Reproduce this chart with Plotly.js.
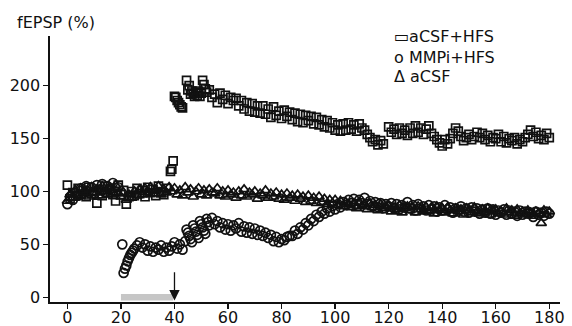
<!DOCTYPE html>
<html>
<head>
<meta charset="utf-8">
<script src="https://cdn.plot.ly/plotly-3.0.1.min.js"></script>
<style>html,body{margin:0;padding:0;background:#fff}#chart{width:572px;height:326px}</style>
</head>
<body>
<div id="chart"></div>
<script>
// ---- data (time in min, fEPSP in % of baseline) ----
const hfsTime = [0,1,2,3,4,5,6,7,8,9,10,11,12,13,14,15,16,17,18,19,20,21,22,23,24,25,26,27,28,29,30,31,32,33,34,35,36,37,
  38.5,39,39.5,40,40.5,41,41.5,42,42.5,43,
  44.5,45,45.5,46,46.5,47,47.5,48,48.5,49,49.5,50,50.5,51,51.5,52,
  53,54,55,56,57,58,59,60,61,62,63,64,65,66,67,68,69,70,71,72,73,74,75,76,77,78,79,80,81,82,83,84,85,86,87,88,89,90,91,92,
  93,94,95,96,97,98,99,100,101,102,103,104,105,106,107,108,109,110,111,112,113,114,115,116,117,118,
  120,121,122,123,124,125,126,127,128,129,130,131,132,133,134,135,136,137,138,139,140,141,142,143,144,145,146,147,148,149,
  150,151,152,153,154,155,156,157,158,159,160,161,162,163,164,165,166,167,168,169,170,171,172,173,174,175,176,177,178,179,180];
const hfsValues = [106,93,99,96,103,97,101,95,104,98,100,89,102,96,105,99,103,97,91,106,97,101,88,95,100,96,103,98,101,95,104,99,102,96,105,100,97,103,
  119,121,129,190,189,186,184,182,180,179,
  205,196,200,192,195,193,190,194,191,195,190,193,205,201,197,194,
  196,189,192,184,193,187,191,183,189,186,188,181,186,178,184,176,183,175,181,174,181,173,178,170,180,172,176,169,177,171,175,168,174,166,173,165,172,167,171,164,
  170,163,168,161,167,160,165,158,163,157,164,158,165,159,163,157,164,160,158,154,151,147,149,144,148,145,
  161,156,159,154,160,155,158,153,160,155,162,156,160,154,159,162,155,152,149,146,143,149,145,150,155,160,157,152,148,151,
  154,149,152,156,151,155,149,153,147,151,150,154,147,152,146,150,148,151,145,149,147,151,154,158,152,156,150,153,149,155,151];

const mmpiTime = [0,1,2,3,4,5,6,7,8,9,10,11,12,13,14,15,16,17,18,19,
  20.5,21,21.5,22,22.5,23,23.5,24,24.5,25,
  26,27,28,29,30,31,32,33,34,35,36,37,38,39,40,41,42,43,44,
  44.5,45,45.5,46,46.5,47,47.5,48,48.5,49,49.5,50,50.5,51,51.5,52,52.5,53,
  54,55,56,57,58,59,60,61,62,63,64,65,66,67,68,69,70,71,72,73,74,75,76,77,78,79,80,81,82,83,
  84,85,86,87,88,89,90,91,92,93,94,95,96,97,98,99,100,101,102,103,104,105,106,107,108,109,110,111,112,113,114,115,116,117,118,119,120,
  121,122,123,124,125,126,127,128,129,130,131,132,133,134,135,136,137,138,139,140,141,142,143,144,145,146,147,148,149,150,
  151,152,153,154,155,156,157,158,159,160,161,162,163,164,165,166,167,168,169,170,171,172,173,174,175,176,177,178,179,180];
const mmpiValues = [88,95,92,99,96,103,98,105,100,104,98,106,101,107,99,105,102,108,100,104,
  50,23,27,30,34,37,40,42,44,46,
  49,52,47,50,44,48,43,47,45,49,43,47,44,48,52,46,50,45,53,
  64,61,58,55,52,68,65,62,59,56,72,69,66,63,60,74,71,68,
  75,69,72,66,70,64,69,63,68,65,70,62,67,61,66,60,65,59,63,58,61,56,59,53,57,52,55,54,57,58,
  58,63,60,66,64,70,68,74,72,78,76,81,79,84,81,86,83,88,85,90,87,92,89,93,88,92,89,94,88,91,86,90,85,89,84,88,86,
  89,84,88,83,87,85,90,84,87,82,88,84,86,82,87,83,86,81,85,82,87,83,85,80,84,82,86,81,84,80,
  85,81,84,79,83,80,84,79,83,78,82,80,83,78,82,79,81,77,82,78,81,79,80,76,81,78,80,77,81,79];

const acsfTime = [0,1,2,3,4,5,6,7,8,9,10,11,12,13,14,15,16,17,18,19,20,21,22,23,24,25,26,27,28,29,30,31,32,33,34,35,36,37,38,39,
  40,41,42,43,44,45,46,47,48,49,50,51,52,53,54,55,56,57,58,59,60,61,62,63,64,65,66,67,68,69,70,71,72,73,74,75,76,77,78,79,
  80,81,82,83,84,85,86,87,88,89,90,91,92,93,94,95,96,97,98,99,100,101,102,103,104,105,106,107,108,109,110,111,112,113,114,115,116,117,118,119,
  120,121,122,123,124,125,126,127,128,129,130,131,132,133,134,135,136,137,138,139,140,141,142,143,144,145,146,147,148,149,150,151,152,153,154,155,156,157,158,159,
  160,161,162,163,164,165,166,167,168,169,170,171,172,173,174,175,176,177,178,179,180];
const acsfValues = [91,97,94,101,96,103,98,100,95,104,99,102,96,105,100,97,103,99,106,98,
  95,99,92,97,94,100,96,102,97,103,99,104,98,101,105,97,102,99,104,100,
  103,97,101,96,104,99,102,95,100,103,97,101,96,102,99,98,103,96,100,95,
  101,97,99,94,100,96,102,95,99,97,100,93,98,96,101,94,98,95,99,93,
  97,92,98,94,96,91,97,93,95,90,96,91,94,89,95,90,93,88,92,89,
  92,87,91,86,90,88,85,89,84,90,86,88,83,89,85,87,82,88,84,86,
  86,81,85,83,87,80,84,86,82,85,80,86,83,81,85,82,84,79,86,82,
  84,80,85,82,79,84,81,83,78,84,82,80,85,81,79,83,80,84,78,82,
  83,79,81,78,84,80,82,77,83,79,81,78,82,80,77,81,79,70,82,78,81];

const xTicks = [0,20,40,60,80,100,120,140,160,180];
const yTicks = [0,50,100,150,200];
const legendLabels = ['\u25AD' + 'aCSF+HFS', 'o MMPi+HFS', '\u0394 aCSF'];
const barRange = [20, 39.5];
const arrowAt = 40;

const FONT = 'DejaVu Sans, Verdana, sans-serif';
const INK = '#111111';

const traces = [
  {x: acsfTime, y: acsfValues, type: 'scatter', mode: 'markers', name: 'aCSF',
   marker: {symbol: 'triangle-up-open', size: 9, color: INK, line: {width: 1.7, color: INK}}},
  {x: mmpiTime, y: mmpiValues, type: 'scatter', mode: 'markers', name: 'MMPi+HFS',
   marker: {symbol: 'circle-open', size: 9, color: INK, line: {width: 1.7, color: INK}}},
  {x: hfsTime, y: hfsValues, type: 'scatter', mode: 'markers', name: 'aCSF+HFS',
   marker: {symbol: 'square-open', size: 8, color: INK, line: {width: 1.7, color: INK}}}
];

const legendY = [1.0, 0.921, 0.846];
const annotations = [
  {xref: 'paper', yref: 'paper', x: -0.069, y: 1.049, xanchor: 'left', yanchor: 'middle',
   text: 'fEPSP (%)', showarrow: false, font: {family: FONT, size: 16, color: INK}},
  {xref: 'x', yref: 'y', axref: 'x', ayref: 'y', x: arrowAt, y: -3, ax: arrowAt, ay: 25,
   text: '', showarrow: true, arrowhead: 2, arrowsize: 1.6, arrowwidth: 1.3, arrowcolor: INK}
];
legendLabels.forEach((t, i) => annotations.push({
  xref: 'paper', yref: 'paper', x: 0.6706, y: legendY[i], xanchor: 'left', yanchor: 'middle',
  text: t, showarrow: false, font: {family: FONT, size: 16, color: INK}
}));

const layout = {
  width: 572, height: 326,
  margin: {l: 50, r: 12, t: 36, b: 24, pad: 0},
  paper_bgcolor: '#ffffff', plot_bgcolor: '#ffffff',
  showlegend: false,
  font: {family: FONT, size: 16, color: INK},
  xaxis: {range: [-6.5, 184], tickvals: xTicks, ticktext: xTicks.map(String),
    showgrid: false, zeroline: false, showline: true, linecolor: INK, linewidth: 1.6,
    ticks: 'outside', ticklen: 5, tickwidth: 1.3, tickcolor: INK, ticklabelstandoff: -5,
    tickfont: {family: FONT, size: 16, color: INK}},
  yaxis: {range: [-4.5, 247], tickvals: yTicks, ticktext: yTicks.map(String),
    showgrid: false, zeroline: false, showline: true, linecolor: INK, linewidth: 1.6,
    ticks: 'outside', ticklen: 5, tickwidth: 1.3, tickcolor: INK,
    tickfont: {family: FONT, size: 16, color: INK}},
  shapes: [
    {type: 'rect', xref: 'x', yref: 'y', x0: barRange[0], x1: barRange[1], y0: -3, y1: 3,
     fillcolor: '#c6c6c6', line: {width: 0}, layer: 'below'}
  ],
  annotations: annotations
};

Plotly.newPlot('chart', traces, layout, {displayModeBar: false, staticPlot: true});
</script>
</body>
</html>
